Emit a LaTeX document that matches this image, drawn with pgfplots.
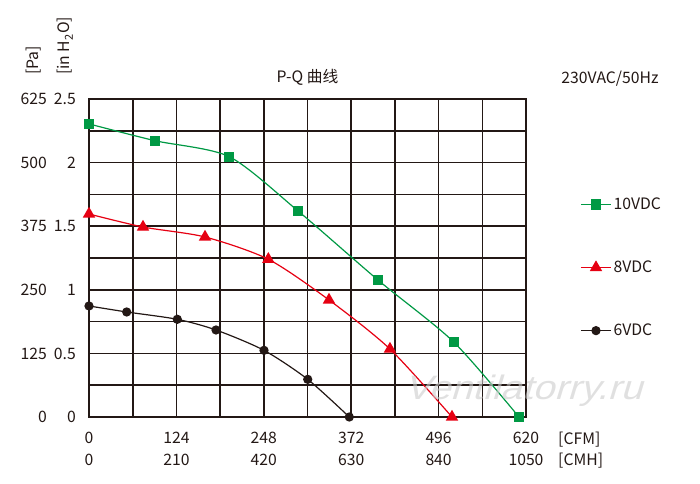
\documentclass[border=0pt]{standalone}
\usepackage{fontspec}
\setmainfont{Noto Sans CJK SC}
\newfontfamily\wmfont{Liberation Sans}
\usepackage{pgfplots}
\pgfplotsset{compat=1.18}
\definecolor{cgreen}{HTML}{009944}
\definecolor{cred}{HTML}{E60012}
\definecolor{cblack}{HTML}{231815}
\definecolor{ctext}{HTML}{231815}
\begin{document}
\fontsize{15.8}{22}\selectfont
\begin{tikzpicture}[x=1bp,y=1bp]
\path[use as bounding box] (0,0) rectangle (700,484);
\begin{axis}[
  at={(89bp,67bp)}, anchor=south west,
  scale only axis, width=437bp, height=318bp,
  xmin=0, xmax=620, ymin=0, ymax=625,
  xtick={0,62,124,186,248,310,372,434,496,558,620},
  ytick={0,62.5,125,187.5,250,312.5,375,437.5,500,562.5,625},
  grid=major,
  major grid style={cblack, line width=1.6bp},
  axis line style={cblack, line width=1.6bp},
  tick style={draw=none},
  xticklabels={{0\\0},{},{124\\210},{},{248\\420},{},{372\\630},{},{496\\840},{},{620\\1050}},
  xticklabel style={align=center, anchor=north, inner sep=0pt, yshift=-15bp, text=ctext},
  yticklabels={
    {\makebox[28bp][r]{0}\hspace{5bp}\makebox[24bp][r]{0}},{},
    {\makebox[28bp][r]{125}\hspace{5bp}\makebox[24bp][r]{0.5}},{},
    {\makebox[28bp][r]{250}\hspace{5bp}\makebox[24bp][r]{1}},{},
    {\makebox[28bp][r]{375}\hspace{5bp}\makebox[24bp][r]{1.5}},{},
    {\makebox[28bp][r]{500}\hspace{5bp}\makebox[24bp][r]{2}},{},
    {\makebox[28bp][r]{625}\hspace{5bp}\makebox[24bp][r]{2.5}}},
  yticklabel style={anchor=east, inner sep=0pt, xshift=-13bp, text=ctext},
  clip=false,
  legend style={draw=none, fill=none, at={(1.124,0.47)}, anchor=west,
    row sep=45bp, inner sep=0pt, nodes={inner sep=2bp, text=ctext}},
  legend cell align=left,
  legend image code/.code={\draw[mark repeat=2,mark phase=2] plot coordinates {(0bp,0bp)(15bp,0bp)(30bp,0bp)};},
]
\addplot[cgreen, line width=1.2bp, smooth, tension=0.45, mark=square*, mark size=4.5bp, mark options={solid, fill=cgreen, draw=cgreen}]
  coordinates {(0,576) (93.6,543) (199,511.6) (296.5,405) (410.4,268.7) (517.4,147.4) (610,0)};
\addlegendentry{10VDC}
\addplot[cred, line width=1.2bp, smooth, tension=0.45, mark=triangle*, mark size=6bp, mark options={solid, fill=cred, draw=cred}]
  coordinates {(0,399) (76.6,373.4) (164.6,353.8) (254.4,310) (340.5,230) (427,133.6) (515,0)};
\addlegendentry{8VDC}
\addplot[cblack, line width=1.2bp, smooth, tension=0.45, mark=*, mark size=4bp, mark options={solid, fill=cblack, draw=cblack}]
  coordinates {(0,218.2) (53.5,206.4) (125.3,192) (180.2,171) (248.3,131) (310.3,74) (369.3,0)};
\addlegendentry{6VDC}
\end{axis}
\node[text=ctext] at (307.5,407) {P-Q 曲线};
\node[text=ctext] at (610,405) {230VAC/50Hz};
\node[rotate=90, anchor=west, inner sep=0pt, text=ctext] at (34,409) {[Pa]};
\node[rotate=90, anchor=west, inner sep=0pt, text=ctext] at (65,409) {[in H\textsubscript{2}O]};
\node[anchor=base west, inner sep=0pt, text=ctext] at (558,39) {[CFM]};
\node[anchor=base west, inner sep=0pt, text=ctext] at (558,18) {[CMH]};
\node[font=\wmfont\fontsize{34}{34}\selectfont, text=gray!40, opacity=0.6, xslant=0.3, xscale=1.15] at (526,93) {Ventilatorry.ru};
\end{tikzpicture}
\end{document}
